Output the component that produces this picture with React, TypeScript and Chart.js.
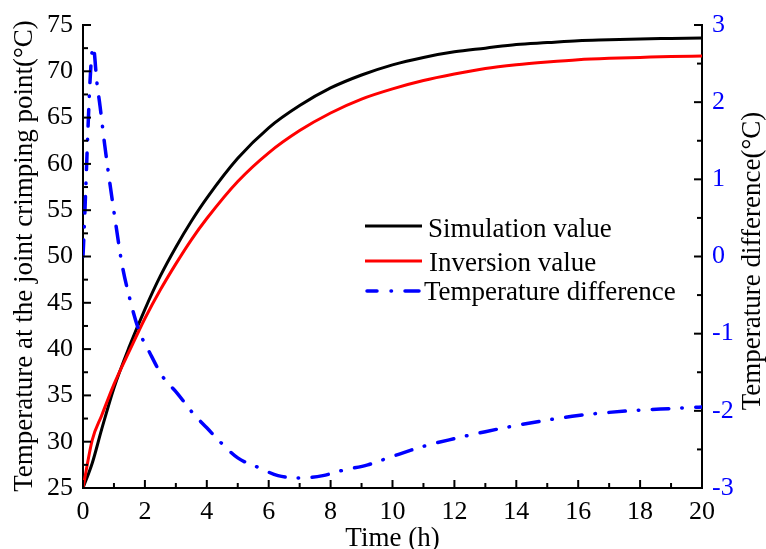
import React, { useEffect, useRef } from "react";
import { Chart, registerables } from "chart.js";
Chart.register(...registerables);

// ---- data ----
const timeHours = [0, 0.3, 0.6, 1, 1.5, 2, 2.5, 3, 3.5, 4, 5, 6, 7, 8, 9, 10, 11, 12, 13, 14, 15, 16, 17, 18, 19, 20];
const simulationValue = [25, 27.7, 31.3, 35.8, 40.3, 44.3, 47.9, 51.0, 53.8, 56.3, 60.6, 63.9, 66.3, 68.2, 69.6, 70.7, 71.5, 72.1, 72.5, 72.9, 73.1, 73.3, 73.4, 73.5, 73.55, 73.6];
const inversionValue = [25, 30.2, 32.8, 36.2, 39.8, 43.3, 46.4, 49.2, 51.8, 54.1, 58.1, 61.2, 63.6, 65.5, 67.0, 68.1, 69.0, 69.7, 70.3, 70.7, 71.0, 71.25, 71.4, 71.5, 71.6, 71.65];
const diffTime = [0, 0.33, 0.45, 0.55, 0.7, 0.85, 1.03, 1.26, 1.52, 1.8, 2.16, 2.58, 3.04, 3.55, 4, 4.5, 5, 5.7, 6.3, 7, 7.75, 8.4, 9.2, 10, 11, 12, 13, 14, 15, 16, 17, 18, 19, 20];
const temperatureDifference = [0, 2.72, 2.25, 1.95, 1.45, 1.0, 0.5, -0.1, -0.56, -0.95, -1.25, -1.56, -1.77, -2.03, -2.22, -2.43, -2.61, -2.74, -2.84, -2.87, -2.84, -2.77, -2.70, -2.59, -2.46, -2.36, -2.27, -2.19, -2.12, -2.06, -2.02, -1.99, -1.97, -1.95];

const xRange = [0, 20];
const leftRange = [25, 75];
const rightRange = [-3, 3];
const xTickLabels = [0, 2, 4, 6, 8, 10, 12, 14, 16, 18, 20];
const leftTickLabels = [25, 30, 35, 40, 45, 50, 55, 60, 65, 70, 75];
const rightTickLabels = [-3, -2, -1, 0, 1, 2, 3];

const seriesNames = ["Simulation value", "Inversion value", "Temperature difference"];
const xTitle = "Time (h)";
const leftTitle = "Temperature at the joint crimping point(°C)";
const rightTitle = "Temperature difference(°C)";

const FONT = "'Liberation Serif', 'Times New Roman', serif";
const BLUE = "#0000ff";
const DASH = [16.5, 13, 0.5, 13.5];

const axesPlugin = {
  id: "axesPlugin",
  afterDraw(chart: any) {
    const ctx = chart.ctx;
    const { left, right, bottom } = chart.chartArea;
    const xs = chart.scales.x, yl = chart.scales.y, yr = chart.scales.y1;
    ctx.save();
    ctx.strokeStyle = "#000";
    ctx.lineWidth = 2;
    const seg = (x1: number, y1: number, x2: number, y2: number) => {
      ctx.beginPath(); ctx.moveTo(x1, y1); ctx.lineTo(x2, y2); ctx.stroke();
    };
    // inward ticks (major + minor)
    for (let i = 0; i < xTickLabels.length; i++) {
      const v = xTickLabels[i];
      const p = xs.getPixelForValue(v);
      seg(p, bottom, p, bottom - 8);
      if (i < xTickLabels.length - 1) {
        const m = xs.getPixelForValue((v + xTickLabels[i + 1]) / 2);
        seg(m, bottom, m, bottom - 5);
      }
    }
    for (let i = 0; i < leftTickLabels.length; i++) {
      const v = leftTickLabels[i];
      const p = yl.getPixelForValue(v);
      seg(left, p, left + 8, p);
      if (i < leftTickLabels.length - 1) {
        const m = yl.getPixelForValue((v + leftTickLabels[i + 1]) / 2);
        seg(left, m, left + 5, m);
      }
    }
    for (let i = 0; i < rightTickLabels.length; i++) {
      const v = rightTickLabels[i];
      const p = yr.getPixelForValue(v);
      seg(right, p, right - 8, p);
      if (i < rightTickLabels.length - 1) {
        const m = yr.getPixelForValue((v + rightTickLabels[i + 1]) / 2);
        seg(right, m, right - 5, m);
      }
    }

    // tick labels
    ctx.font = `26px ${FONT}`;
    ctx.textBaseline = "middle";
    ctx.fillStyle = "#000";
    ctx.textAlign = "center";
    for (const v of xTickLabels) ctx.fillText(String(v), xs.getPixelForValue(v), 512);
    ctx.textAlign = "right";
    for (const v of leftTickLabels) ctx.fillText(String(v), left - 10, yl.getPixelForValue(v));
    ctx.textAlign = "left";
    ctx.fillStyle = BLUE;
    for (const v of rightTickLabels) ctx.fillText(String(v), right + 10, yr.getPixelForValue(v));

    // axis titles
    ctx.fillStyle = "#000";
    ctx.font = `27px ${FONT}`;
    ctx.textBaseline = "middle";
    ctx.textAlign = "center";
    ctx.fillText(xTitle, (left + right) / 2, 539);

    ctx.save();
    ctx.translate(25, 256);
    ctx.rotate(-Math.PI / 2);
    ctx.fillText(leftTitle, 0, 0);
    ctx.restore();

    ctx.save();
    ctx.translate(753, 261);
    ctx.rotate(-Math.PI / 2);
    ctx.fillText(rightTitle, 0, 0);
    ctx.restore();

    // legend
    const ds = chart.data.datasets;
    const rows = [
      { y: 226, tx: 428, ty: 237 },
      { y: 261, tx: 429, ty: 271 },
      { y: 291, tx: 424, ty: 300 },
    ];
    ctx.textAlign = "left";
    ctx.textBaseline = "alphabetic";
    for (let i = 0; i < 3; i++) {
      const d = ds[i];
      const r = rows[i];
      ctx.strokeStyle = d.borderColor;
      ctx.lineWidth = d.borderWidth;
      ctx.lineCap = d.borderDash ? "round" : "butt";
      if (d.borderDash) {
        seg(367, r.y, 377, r.y);
        seg(391, r.y, 391.5, r.y);
        seg(405, r.y, 419, r.y);
      } else {
        seg(365, r.y, 422, r.y);
      }
      ctx.fillStyle = "#000";
      ctx.fillText(d.label, r.tx, r.ty);
    }
    ctx.restore();
  },
};

export default function App() {
  const ref = useRef<HTMLCanvasElement>(null);
  useEffect(() => {
    const chart = new Chart(ref.current!, {
      type: "line",
      data: {
        datasets: [
          {
            label: seriesNames[0],
            data: timeHours.map((t, i) => ({ x: t, y: simulationValue[i] })),
            borderColor: "#000000",
            borderWidth: 3,
            pointRadius: 0,
            cubicInterpolationMode: "monotone",
            yAxisID: "y",
            order: 2,
          },
          {
            label: seriesNames[1],
            data: timeHours.map((t, i) => ({ x: t, y: inversionValue[i] })),
            borderColor: "#ff0000",
            borderWidth: 3,
            pointRadius: 0,
            cubicInterpolationMode: "monotone",
            yAxisID: "y",
            order: 1,
          },
          {
            label: seriesNames[2],
            data: diffTime.map((t, i) => ({ x: t, y: temperatureDifference[i] })),
            borderColor: BLUE,
            borderWidth: 3.5,
            borderDash: DASH,
            borderCapStyle: "round",
            pointRadius: 0,
            cubicInterpolationMode: "monotone",
            yAxisID: "y1",
            order: 0,
          },
        ],
      },
      options: {
        responsive: false,
        devicePixelRatio: 1,
        animation: false,
        layout: { padding: { top: 25, left: 0, right: 0, bottom: 0 } },
        plugins: { legend: { display: false }, tooltip: { enabled: false } },
        scales: {
          x: {
            type: "linear",
            min: xRange[0],
            max: xRange[1],
            grid: { drawOnChartArea: false, drawTicks: false },
            border: { display: true, color: "#000", width: 2 },
            ticks: { display: false, stepSize: 2 },
            afterFit: (s: any) => { s.height = 61; },
          },
          y: {
            type: "linear",
            position: "left",
            min: leftRange[0],
            max: leftRange[1],
            grid: { drawOnChartArea: false, drawTicks: false },
            border: { display: true, color: "#000", width: 2 },
            ticks: { display: false, stepSize: 5 },
            afterFit: (s: any) => { s.width = 83; },
          },
          y1: {
            type: "linear",
            position: "right",
            min: rightRange[0],
            max: rightRange[1],
            grid: { drawOnChartArea: false, drawTicks: false },
            border: { display: true, color: "#000", width: 2 },
            ticks: { display: false, stepSize: 1 },
            afterFit: (s: any) => { s.width = 64; },
          },
        },
      },
      plugins: [axesPlugin],
    } as any);
    return () => chart.destroy();
  }, []);
  return (
    <div style={{ position: "fixed", left: 0, top: 0, width: 766, height: 549, background: "#fff" }}>
      <canvas ref={ref} width={766} height={549} style={{ display: "block" }} />
    </div>
  );
}
